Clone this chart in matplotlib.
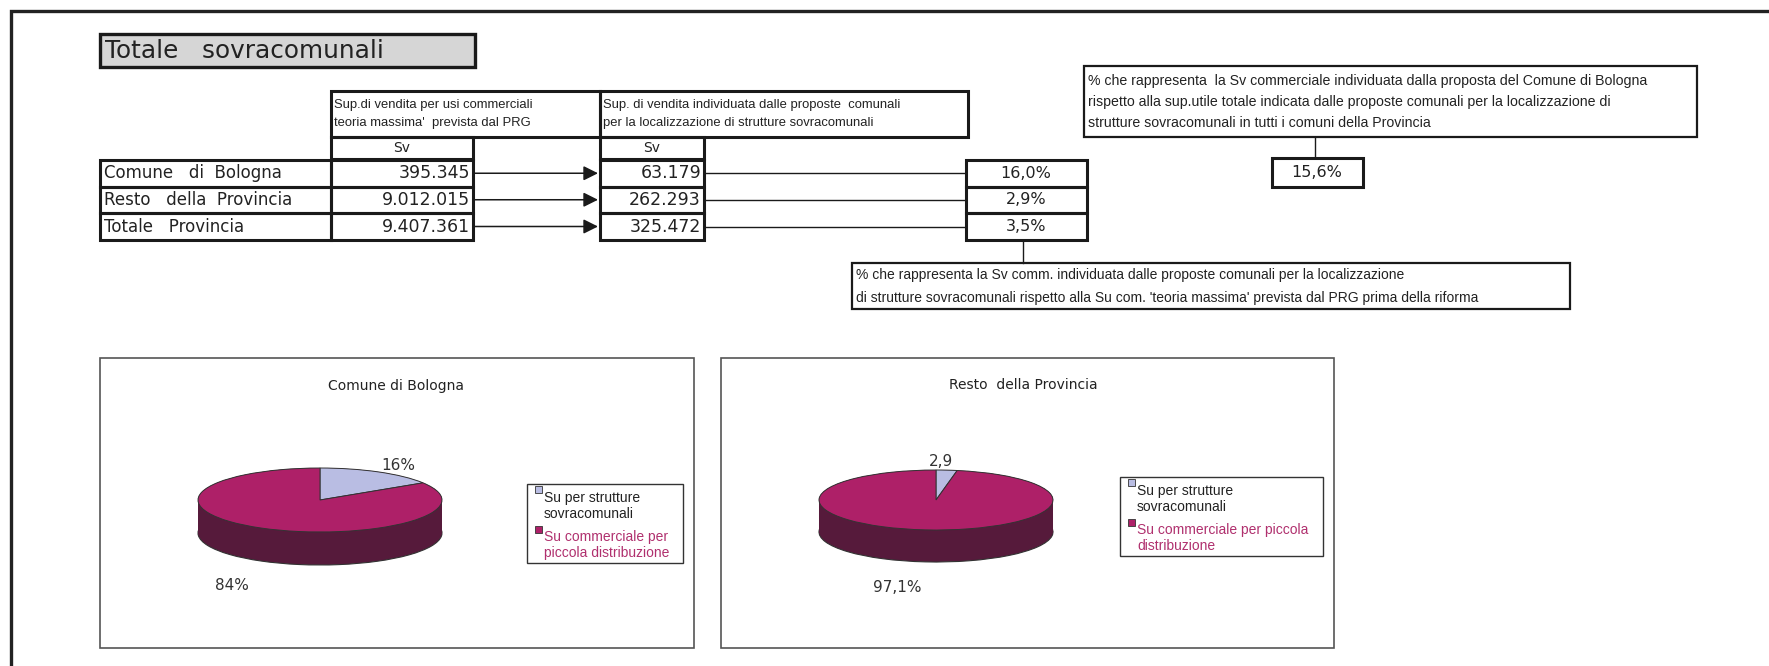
import numpy as np
import matplotlib
matplotlib.use("Agg")
import matplotlib.pyplot as plt
from matplotlib.patches import Rectangle

# ---- data ----
row_labels = ["Comune   di  Bologna", "Resto   della  Provincia", "Totale   Provincia"]
sv_prg = [395345, 9012015, 9407361]        # Sv teoria massima PRG
sv_prop = [63179, 262293, 325472]          # Sv proposte comunali
pct_labels = ["16,0%", "2,9%", "3,5%"]
bologna_share = "15,6%"

pie_titles = ["Comune di Bologna", "Resto  della Provincia"]
pie_values = [[16, 84], [2.9, 97.1]]
pie_value_labels = [["16%", "84%"], ["2,9", "97,1%"]]
legend_labels = [
    ["Su per strutture\nsovracomunali", "Su commerciale per\npiccola distribuzione"],
    ["Su per strutture\nsovracomunali", "Su commerciale per piccola\ndistribuzione"],
]

head1 = "Sup.di vendita per usi commerciali\nteoria massima'  prevista dal PRG"
head2 = "Sup. di vendita individuata dalle proposte  comunali\nper la localizzazione di strutture sovracomunali"
note_top = ("% che rappresenta  la Sv commerciale individuata dalla proposta del Comune di Bologna\n"
            "rispetto alla sup.utile totale indicata dalle proposte comunali per la localizzazione di\n"
            "strutture sovracomunali in tutti i comuni della Provincia")
note_low = ("% che rappresenta la Sv comm. individuata dalle proposte comunali per la localizzazione\n"
            "di strutture sovracomunali rispetto alla Su com. 'teoria massima' prevista dal PRG prima della riforma")

light = "#b9bde3"
magenta = "#ae2068"
side = "#561a3b"
dark = "#1a1a1a"

W, H = 1769, 666
fig = plt.figure(figsize=(W / 100, H / 100), dpi=100)
ax = fig.add_axes([0, 0, 1, 1])
ax.set_xlim(0, W)
ax.set_ylim(H, 0)
ax.axis("off")

GEO = "DejaVu Sans"
ARIAL = "Liberation Sans"


def box(x0, y0, x1, y1, lw=2.2, fc="none", ec=dark, z=2):
    ax.add_patch(Rectangle((x0, y0), x1 - x0, y1 - y0, lw=lw, fc=fc, ec=ec, zorder=z))


def fmt(v):
    return f"{v:,}".replace(",", ".")


# outer frame (top and left only)
ax.plot([11, 11, W], [H, 11, 11], color="#222", lw=2.4, solid_joinstyle="miter")

# title
box(100, 34, 475, 67, lw=2.4, fc="#d6d6d6")
ax.text(105, 51, "Totale   sovracomunali", family=GEO, fontsize=17.8, va="center", color="#222")

# table header
box(331, 91, 600, 137)
box(600, 91, 968, 137)
ax.text(334, 114, head1, family=ARIAL, fontsize=9.4, va="center", linespacing=1.65, color="#222")
ax.text(603, 114, head2, family=ARIAL, fontsize=9.4, va="center", linespacing=1.65, color="#222")
box(331, 137, 473, 159)
box(600, 137, 704, 159)
ax.text(402, 148, "Sv", family=GEO, fontsize=10, ha="center", va="center", color="#222")
ax.text(652, 148, "Sv", family=GEO, fontsize=10, ha="center", va="center", color="#222")

rows_y = [160, 186.5, 213, 240]
for i, lab in enumerate(row_labels):
    y0, y1 = rows_y[i], rows_y[i + 1]
    yc = (y0 + y1) / 2
    box(100, y0, 331, y1)
    box(331, y0, 473, y1)
    box(600, y0, 704, y1)
    box(966, y0, 1087, y1)
    ax.text(104, yc, lab, family=GEO, fontsize=12, va="center", color="#222")
    ax.text(470, yc, fmt(sv_prg[i]), family=GEO, fontsize=12.5, ha="right", va="center", color="#222")
    ax.text(701, yc, fmt(sv_prop[i]), family=GEO, fontsize=12.5, ha="right", va="center", color="#222")
    ax.text(1026, yc, pct_labels[i], family=GEO, fontsize=11.5, ha="center", va="center", color="#222")
    ax.annotate("", xy=(598, yc), xytext=(473, yc),
                arrowprops=dict(arrowstyle="-|>", color=dark, lw=1.1, mutation_scale=22,
                                shrinkA=0, shrinkB=0))
    ax.plot([704, 966], [yc, yc], color=dark, lw=1.0)

# lower note
ax.plot([1023, 1023], [240, 263], color=dark, lw=1.0)
box(852, 263, 1570, 309, lw=1.6)
ax.text(856, 286.5, note_low, family=ARIAL, fontsize=10, va="center", linespacing=1.75, color="#222")

# upper note
box(1084, 66, 1697, 137, lw=1.6)
ax.text(1088, 102, note_top, family=ARIAL, fontsize=10.2, va="center", linespacing=1.6, color="#222")
ax.plot([1315, 1315], [137, 158], color=dark, lw=1.0)
box(1272, 158, 1363, 187)
ax.text(1317, 172.5, bologna_share, family=GEO, fontsize=11.5, ha="center", va="center", color="#222")

# pie panels
panels = [(100, 358, 694, 648), (721, 358, 1334, 648)]
title_pos = [(396, 386), (1023, 385)]
pie_geom = [(320, 500, 122, 32, 33), (936, 500, 117, 30, 32)]   # cx, cy, a, b, depth (px)
label_pos = [[(398, 465), (232, 585)], [(941, 461), (897, 587)]]
legend_box = [(527, 484, 683, 563), (1120, 477, 1323, 556)]

for k in range(2):
    x0, y0, x1, y1 = panels[k]
    box(x0, y0, x1, y1, lw=1.2, ec="#555", z=1)
    ax.text(*title_pos[k], pie_titles[k], family=GEO, fontsize=10, ha="center", va="center", color="#222")

    cx, cy, a, b, depth = pie_geom[k]
    pad = 4
    d = depth / b
    pax = fig.add_axes([(cx - a - pad) / W, 1 - (cy + b + depth + pad) / H,
                        (2 * a + 2 * pad) / W, (2 * b + depth + 2 * pad) / H])
    for off in np.linspace(d, 0, 30):
        wp = dict(linewidth=0.8 if off == d else 0, edgecolor="#333")
        pax.pie(pie_values[k], colors=[side, side], startangle=90, counterclock=False,
                center=(0, -off), wedgeprops=wp)
    pax.pie(pie_values[k], colors=[light, magenta], startangle=90, counterclock=False,
            wedgeprops=dict(linewidth=0.7, edgecolor="#333"))
    pax.set_aspect("auto")
    pax.set_xlim(-1 - pad / a, 1 + pad / a)
    pax.set_ylim(-1 - d - pad / b, 1 + pad / b)
    pax.axis("off")

    for (lx, ly), txt in zip(label_pos[k], pie_value_labels[k]):
        ax.text(lx, ly, txt, family=GEO, fontsize=11, ha="center", va="center", color="#333")

    # legend
    lx0, ly0, lx1, ly1 = legend_box[k]
    box(lx0, ly0, lx1, ly1, lw=1.0, ec="#333")
    tx = lx0 + 17
    ax.add_patch(Rectangle((lx0 + 8, ly0 + 2), 7, 7, fc=light, ec="#333", lw=0.6, zorder=3))
    ax.text(tx, ly0 + 7, legend_labels[k][0], family=ARIAL, fontsize=10, va="top",
            linespacing=1.15, color="#222")
    ax.add_patch(Rectangle((lx0 + 8, ly0 + 42), 7, 7, fc=magenta, ec="#333", lw=0.6, zorder=3))
    ax.text(tx, ly0 + 46, legend_labels[k][1], family=ARIAL, fontsize=10, va="top",
            linespacing=1.15, color="#b0306e")

fig.savefig("out.png", dpi=100)
